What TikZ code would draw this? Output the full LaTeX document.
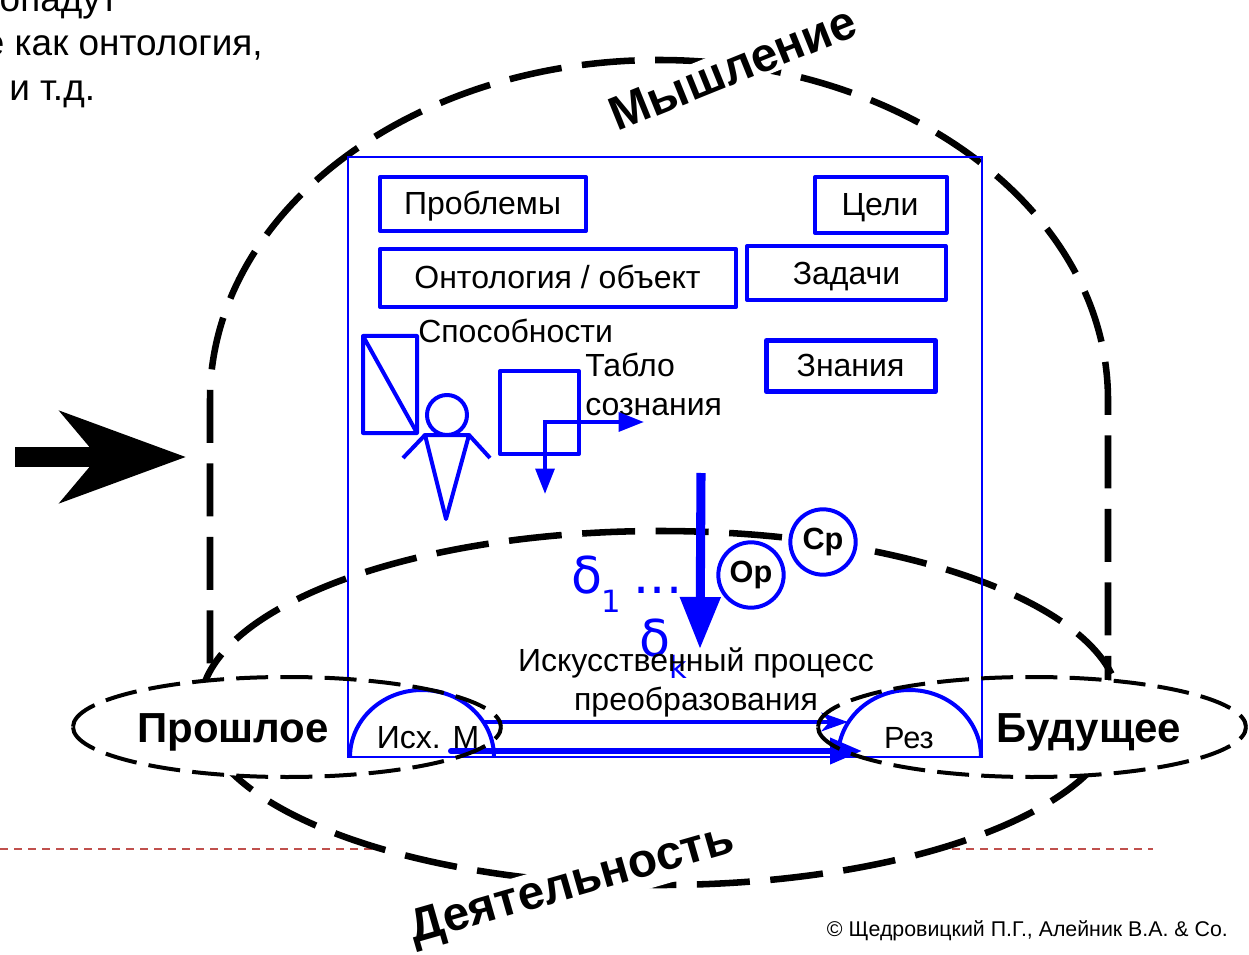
\documentclass[tikz,border=0pt]{standalone}
\usepackage{fontspec}
\setmainfont{Liberation Sans}
\newfontfamily\deltafont{DejaVu Sans}
\usetikzlibrary{arrows.meta}
\definecolor{bl}{RGB}{0,0,255}
\definecolor{redd}{RGB}{192,80,77}
\tikzset{
  lbl/.style={inner sep=0pt,anchor=base,font=\fontsize{24}{28}\selectfont},
  toptxt/.style={inner sep=0pt,anchor=base west,font=\fontsize{27.7}{32}\selectfont},
  bigb/.style={inner sep=0pt,anchor=base,font=\fontsize{31.5}{36}\selectfont\bfseries},
  rotb/.style={inner sep=2pt,fill=white,font=\fontsize{35.8}{40}\selectfont\bfseries},
  bigdash/.style={black,line width=4.9pt,dash pattern=on 39.75pt off 15.4pt},
  smalldash/.style={black,line width=3pt,dash pattern=on 24pt off 9.15pt,dash phase=13.9pt},
  bbox/.style={draw=bl,line width=3pt,line join=round,inner sep=0pt,outer sep=0pt,anchor=north west},
  bshape/.style={draw=bl,line width=3pt,line join=round},
  circ/.style={circle,draw=bl,fill=white,line width=3pt,minimum size=49pt,inner sep=0pt,font=\fontsize{23}{26}\selectfont\bfseries},
  dl/.style={text=bl,inner sep=0pt,anchor=base,font=\deltafont\fontsize{38}{42}\selectfont},
  dsub/.style={text=bl,inner sep=0pt,anchor=base,font=\deltafont\fontsize{23}{26}\selectfont},
}
\begin{document}
\begin{tikzpicture}[x=.75pt,y=.75pt]
\useasboundingbox (0,-955) rectangle (1249,0);
\clip (0,-955) rectangle (1249,0);
% top clipped text
\node[toptxt,anchor=base east] (t1) at (118,-12) {попадут};
\node[toptxt,anchor=base east] (t2) at (263,-56) {е как онтология,};
\node[toptxt] (t3) at (9,-101) {и т.д.};
% red line
\coordinate (ra) at (0,-849); \coordinate (rb) at (1153,-849);
\draw[redd,line width=1.1pt,dash pattern=on 6pt off 4.5pt] (ra) -- (rb);
% activity ellipse
\fill[white] (660,-708) ellipse [x radius=460,y radius=177];
\draw[bigdash,dash phase=28.5pt] (1120,-708) arc[start angle=0,end angle=180,x radius=460,y radius=177];
\draw[bigdash,dash phase=19.5pt] (200,-708) arc[start angle=180,end angle=360,x radius=460,y radius=177];
% thinking arch
\draw[bigdash,dash phase=39.75pt] (210,-684) -- (210,-400) arc[start angle=180,end angle=0,x radius=449,y radius=340] -- (1108,-684);
% rotated labels
\node[rotb,rotate=22] (mysh) at (733,-68) {Мышление};
\node[rotb,rotate=16] (deyat) at (572,-886) {Деятельность};
% small ellipse fills
\fill[white] (287,-727) ellipse [x radius=214,y radius=50];
\fill[white] (1032,-727) ellipse [x radius=214,y radius=50];
% big arrow
\coordinate (ba) at (15,-457); \coordinate (bb) at (186,-457);
\draw[black,line width=15pt,-{Stealth[length=94pt,width=68pt,inset=28pt]}] (ba) -- (bb);
% frame
\node[draw=bl,line width=1.6pt,outer sep=0pt,minimum width=475.5pt,minimum height=450pt,inner sep=0pt,anchor=north west] (frame) at (348,-157) {};
% boxes
\node[bbox,minimum width=154.5pt,minimum height=40.5pt] (b1) at (380,-177) {};
\node[lbl] (b1t) at (482.5,-215) {Проблемы};
\node[bbox,minimum width=99pt,minimum height=42pt] (b2) at (815,-177) {};
\node[lbl] (b2t) at (880,-216) {Цели};
\node[bbox,minimum width=267pt,minimum height=43.5pt] (b3) at (380,-249) {};
\node[lbl] (b3t) at (557.5,-289) {Онтология / объект};
\node[bbox,minimum width=149pt,minimum height=40.5pt] (b4) at (747,-246) {};
\node[lbl] (b4t) at (846.5,-285) {Задачи};
\node[bbox,line width=3.8pt,minimum width=126.5pt,minimum height=38.5pt] (b5) at (766.5,-340.5) {};
\node[lbl] (b5t) at (850.5,-377) {Знания};
% labels
\node[lbl,anchor=base west] (sp) at (418,-342.5) {Способности};
\node[lbl,anchor=base west] (tb) at (585,-377) {Табло};
\node[lbl,anchor=base west] (sz) at (585,-416) {сознания};
% abilities box
\draw[bshape] (363,-336) rectangle (417,-433) (363,-336) -- (417,-433);
% person
\draw[bshape] (447,-415) circle (15pt);
\draw[bshape] (425,-435) -- (469,-435) -- (446,-519) -- cycle;
\draw[bshape] (425,-435) -- (403,-458);
\draw[bshape] (469,-435) -- (490,-458);
% screen
\node[bbox,minimum width=59.25pt,minimum height=62.25pt] (scr) at (500,-371) {};
\coordinate (ca) at (545,-494); \coordinate (cb) at (545,-422); \coordinate (cc) at (644,-422);
\draw[bl,line width=3pt,{Triangle[length=19pt,width=14pt]}-{Triangle[length=19pt,width=14pt]}] (ca) -- (cb) -- (cc);
% delta
\node[dl] (d1) at (587,-593) {δ};
\node[dsub] (d1s) at (611,-612) {1};
\node[dl] (dots) at (658,-593) {...};
\node[dl] (d2) at (655,-656) {δ};
\node[dsub] (d2s) at (678,-678) {k};
% process text
\node[lbl] (pr1) at (696,-671) {Искусственный процесс};
\node[lbl] (pr2) at (696,-710) {преобразования};
% main arrow
\coordinate (ma) at (701,-473); \coordinate (mb) at (700,-649);
\draw[bl,line width=6.8pt,-{Triangle[length=39pt,width=29pt]}] (ma) -- (mb);
% circles
\node[circ] (op) at (751,-575) {Ор};
\node[circ] (cp) at (823,-542) {Ср};
% semicircles
\draw[bl,line width=3pt] (350,-757) arc[start angle=180,end angle=0,x radius=72,y radius=67];
\draw[bl,line width=3pt] (838,-757) arc[start angle=180,end angle=0,x radius=71.5,y radius=67];
\node[lbl] (ish) at (428,-748) {Исх. М};
\node[lbl,font=\fontsize{23}{26}\selectfont] (rez) at (909,-748) {Рез};
% flow arrows
\coordinate (fa) at (483,-722); \coordinate (fb) at (848,-722);
\draw[bl,line width=3pt,-{Stealth[length=20pt,width=14pt,inset=6pt]}] (fa) -- (fb);
\coordinate (ga) at (451,-751); \coordinate (gb) at (862,-751);
\draw[bl,line width=4.5pt,line cap=round,-{Triangle[length=24pt,width=19pt]}] (ga) -- (gb);
% small ellipses, mirrored halves
\draw[smalldash] (501,-727) arc[start angle=0,end angle=180,x radius=214,y radius=50];
\draw[smalldash] (501,-727) arc[start angle=0,end angle=-180,x radius=214,y radius=50];
\draw[smalldash] (1246,-727) arc[start angle=0,end angle=180,x radius=214,y radius=50];
\draw[smalldash] (1246,-727) arc[start angle=0,end angle=-180,x radius=214,y radius=50];
\node[bigb] (past) at (233,-742) {Прошлое};
\node[bigb] (fut) at (1089,-742) {Будущее};
% copyright
\node[inner sep=0pt,anchor=base east,font=\fontsize{16}{19}\selectfont] (copy) at (1228,-936) {© Щедровицкий П.Г., Алейник В.А. \& Co.};
\end{tikzpicture}
\end{document}
